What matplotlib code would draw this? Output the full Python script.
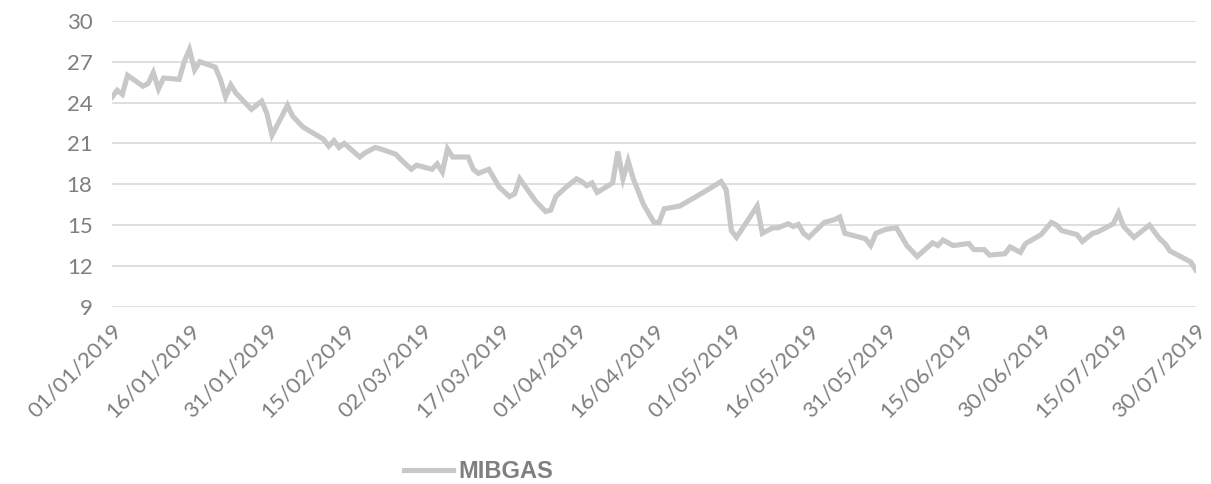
import pandas as pd
import matplotlib
matplotlib.use('Agg')
import matplotlib.pyplot as plt

# MIBGAS daily price
dates = ['2019-01-01', '2019-01-02', '2019-01-03', '2019-01-04', '2019-01-07', '2019-01-08',
         '2019-01-09', '2019-01-10', '2019-01-11', '2019-01-14', '2019-01-15', '2019-01-16',
         '2019-01-17', '2019-01-18', '2019-01-21', '2019-01-22', '2019-01-23', '2019-01-24',
         '2019-01-25', '2019-01-28', '2019-01-30', '2019-01-31', '2019-02-01', '2019-02-04',
         '2019-02-05', '2019-02-07', '2019-02-11', '2019-02-12', '2019-02-13', '2019-02-14',
         '2019-02-15', '2019-02-18', '2019-02-19', '2019-02-21', '2019-02-22', '2019-02-25',
         '2019-02-26', '2019-02-28', '2019-03-01', '2019-03-04', '2019-03-05', '2019-03-06',
         '2019-03-07', '2019-03-08', '2019-03-11', '2019-03-12', '2019-03-13', '2019-03-15',
         '2019-03-17', '2019-03-19', '2019-03-20', '2019-03-21', '2019-03-24', '2019-03-26',
         '2019-03-27', '2019-03-28', '2019-03-30', '2019-04-01', '2019-04-02', '2019-04-03',
         '2019-04-04', '2019-04-05', '2019-04-08', '2019-04-09', '2019-04-10', '2019-04-11',
         '2019-04-12', '2019-04-14', '2019-04-16', '2019-04-17', '2019-04-18', '2019-04-21',
         '2019-04-26', '2019-04-29', '2019-04-30', '2019-05-01', '2019-05-02', '2019-05-06',
         '2019-05-07', '2019-05-09', '2019-05-10', '2019-05-12', '2019-05-13', '2019-05-14',
         '2019-05-15', '2019-05-16', '2019-05-19', '2019-05-21', '2019-05-22', '2019-05-23',
         '2019-05-26', '2019-05-27', '2019-05-28', '2019-05-29', '2019-05-31', '2019-06-02',
         '2019-06-04', '2019-06-06', '2019-06-09', '2019-06-10', '2019-06-11', '2019-06-13',
         '2019-06-16', '2019-06-17', '2019-06-19', '2019-06-20', '2019-06-23', '2019-06-24',
         '2019-06-26', '2019-06-27', '2019-06-30', '2019-07-02', '2019-07-03', '2019-07-04',
         '2019-07-07', '2019-07-08', '2019-07-10', '2019-07-11', '2019-07-14', '2019-07-15',
         '2019-07-16', '2019-07-18', '2019-07-21', '2019-07-23', '2019-07-24', '2019-07-25',
         '2019-07-29', '2019-07-30']
mibgas = [24.4, 24.9, 24.6, 26.0, 25.2, 25.4,
          26.2, 25.0, 25.8, 25.7, 27.0, 27.9,
          26.4, 27.0, 26.6, 25.7, 24.4, 25.3,
          24.7, 23.5, 24.1, 23.2, 21.6, 23.8,
          23.0, 22.2, 21.3, 20.8, 21.2, 20.7,
          21.0, 20.0, 20.3, 20.7, 20.6, 20.2,
          19.8, 19.1, 19.4, 19.1, 19.5, 18.9,
          20.6, 20.0, 20.0, 19.1, 18.8, 19.1,
          17.8, 17.1, 17.3, 18.4, 16.8, 16.0,
          16.1, 17.1, 17.8, 18.4, 18.2, 17.9,
          18.1, 17.4, 18.1, 20.4, 18.4, 19.7,
          18.4, 16.5, 15.2, 15.2, 16.2, 16.4,
          17.5, 18.2, 17.6, 14.6, 14.1, 16.4,
          14.4, 14.8, 14.8, 15.1, 14.9, 15.05,
          14.4, 14.1, 15.2, 15.4, 15.6, 14.4,
          14.1, 14.0, 13.5, 14.4, 14.7, 14.8,
          13.5, 12.7, 13.7, 13.5, 13.9, 13.5,
          13.65, 13.2, 13.2, 12.8, 12.9, 13.4,
          13.0, 13.65, 14.3, 15.2, 15.0, 14.6,
          14.3, 13.8, 14.4, 14.5, 15.1, 15.9,
          14.9, 14.1, 15.0, 14.0, 13.65, 13.1,
          12.3, 11.7]

tick_labels = ['01/01/2019', '16/01/2019', '31/01/2019', '15/02/2019', '02/03/2019',
               '17/03/2019', '01/04/2019', '16/04/2019', '01/05/2019', '16/05/2019',
               '31/05/2019', '15/06/2019', '30/06/2019', '15/07/2019', '30/07/2019']
y_ticks = [9, 12, 15, 18, 21, 24, 27, 30]

plt.rcParams['font.family'] = ['Lato', 'DejaVu Sans']
text_grey = '#7f7f7f'

fig = plt.figure(figsize=(12.11, 4.84), dpi=100)
ax = fig.add_axes([0.0925, 0.366, 0.895, 0.591])

x = pd.to_datetime(dates)
ax.plot(x, mibgas, color='#c8c8c8', linewidth=3.7, solid_joinstyle='miter', label='MIBGAS')

ticks = pd.to_datetime(tick_labels, format='%d/%m/%Y')
ax.set_xticks(ticks)
ax.set_xticklabels(tick_labels, rotation=45, ha='right', rotation_mode='anchor')
ax.set_xlim(ticks[0], ticks[-1])
ax.set_ylim(9, 30)
ax.set_yticks(y_ticks)
ax.yaxis.grid(True, color='#d9d9d9', linewidth=1.2)
ax.set_axisbelow(True)
for s in ax.spines.values():
    s.set_visible(False)
ax.tick_params(axis='both', length=0, labelsize=16, colors=text_grey)
ax.tick_params(axis='y', pad=14)
ax.tick_params(axis='x', pad=10)

leg = fig.legend(loc='center', bbox_to_anchor=(0.395, 0.025), frameon=False,
                 handlelength=2.1, handletextpad=0.2,
                 prop={'family': ['Liberation Sans', 'DejaVu Sans'], 'weight': 'bold', 'size': 17})
for t in leg.get_texts():
    t.set_color(text_grey)

fig.savefig('out.png', dpi=100)
